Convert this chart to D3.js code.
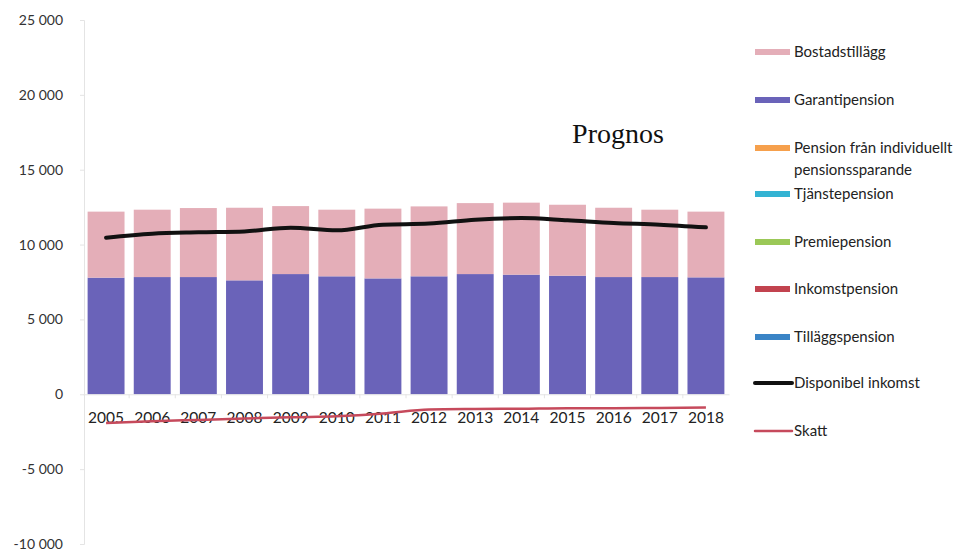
<!DOCTYPE html>
<html>
<head>
<meta charset="utf-8">
<script src="https://cdn.jsdelivr.net/npm/d3@7"></script>
<style>
  html, body { margin: 0; padding: 0; background: #fff; }
  svg { display: block; }
</style>
</head>
<body>
<svg id="chart" width="972" height="553"></svg>
<script>
// Years on the category axis
const years = ["2005","2006","2007","2008","2009","2010","2011","2012","2013","2014","2015","2016","2017","2018"];

// Stacked components (kr per month)
const garantipension = [7790,7830,7830,7610,8030,7880,7740,7880,8030,7990,7920,7830,7830,7810];
const bostadstillagg = [4410,4500,4610,4850,4540,4450,4660,4670,4740,4810,4740,4630,4500,4390];
const tillaggspension = [0,0,0,0,0,0,0,0,0,0,0,0,0,0];
const inkomstpension = [0,0,0,0,0,0,0,0,0,0,0,0,0,0];
const premiepension = [0,0,0,0,0,0,0,0,0,0,0,0,0,0];
const tjanstepension = [0,0,0,0,0,0,0,0,0,0,0,0,0,0];
const individuellt = [0,0,0,0,0,0,0,0,0,0,0,0,0,0];

// Lines
const disponibelInkomst = [10460,10730,10820,10880,11130,10950,11330,11400,11660,11770,11620,11440,11330,11150];
const skatt = [-1920,-1800,-1710,-1620,-1530,-1470,-1290,-1020,-980,-960,-930,-930,-910,-890];

// Axis ticks
const yTicks = [-10000,-5000,0,5000,10000,15000,20000,25000];

const stackKeys = ["garantipension","bostadstillagg"];
const rows = years.map((y, i) => ({
  year: y,
  garantipension: garantipension[i],
  bostadstillagg: bostadstillagg[i]
}));

const colors = {
  bostadstillagg: "#e4aeb8",
  garantipension: "#6a63b9",
  individuellt: "#f6a04c",
  tjanstepension: "#33b3d3",
  premiepension: "#9bc857",
  inkomstpension: "#c2434f",
  tillaggspension: "#3a84c6",
  disponibel: "#111111",
  skatt: "#c64a5c"
};

const svg = d3.select("#chart");
const font = "Lato, 'Open Sans', sans-serif";

const x = d3.scaleBand().domain(years).range([83, 729]).paddingInner(0.2).paddingOuter(0.1);
const y = d3.scaleLinear().domain([-10000, 25000]).range([544, 20]);

// Y axis
const fmt = v => d3.format(",")(v).replace(/,/g, " ").replace("−", "-");
const yAxis = svg.append("g").attr("transform", "translate(84,0)")
  .call(d3.axisLeft(y).tickValues(yTicks).tickSize(4).tickFormat(fmt));
yAxis.select(".domain").attr("stroke", "#e4e4e4");
yAxis.selectAll(".tick line").attr("stroke", "#e4e4e4");
yAxis.selectAll(".tick text")
  .attr("x", -21)
  .attr("fill", "#333")
  .style("font-family", font)
  .style("font-size", "14px");

// Stacked bars
const series = d3.stack().keys(stackKeys)(rows);
svg.append("g").selectAll("g").data(series).join("g")
  .attr("fill", d => colors[d.key])
  .selectAll("rect").data(d => d).join("rect")
  .attr("x", d => x(d.data.year))
  .attr("width", x.bandwidth())
  .attr("y", d => y(d[1]))
  .attr("height", d => y(d[0]) - y(d[1]));

// X axis along zero
const xAxis = svg.append("g").attr("transform", `translate(0,${y(0)})`)
  .call(d3.axisBottom(x).tickSize(0).tickPadding(18));
xAxis.select(".domain").attr("stroke", "#e4e4e4");
xAxis.selectAll(".tick text")
  .attr("fill", "#222")
  .style("font-family", font)
  .style("font-size", "15.5px");
// small ticks between categories
xAxis.selectAll(".sep").data(years.slice(1)).join("line")
  .attr("class", "sep")
  .attr("x1", d => x(d) - x.step() * x.paddingInner() / 2)
  .attr("x2", d => x(d) - x.step() * x.paddingInner() / 2)
  .attr("y1", 0).attr("y2", 4)
  .attr("stroke", "#e4e4e4");

const cx = (d, i) => x(years[i]) + x.bandwidth() / 2;

// Skatt line
svg.append("path")
  .datum(skatt)
  .attr("fill", "none")
  .attr("stroke", colors.skatt)
  .attr("stroke-width", 2.5)
  .attr("d", d3.line().x(cx).y(d => y(d)).curve(d3.curveMonotoneX));

// Disponibel inkomst line
svg.append("path")
  .datum(disponibelInkomst)
  .attr("fill", "none")
  .attr("stroke", colors.disponibel)
  .attr("stroke-width", 4)
  .attr("stroke-linecap", "round")
  .attr("d", d3.line().x(cx).y(d => y(d)).curve(d3.curveMonotoneX));

// Annotation
svg.append("text")
  .attr("x", 618).attr("y", 143)
  .attr("text-anchor", "middle")
  .style("font-family", "'Liberation Serif', 'Times New Roman', serif")
  .style("font-size", "28px")
  .attr("fill", "#111")
  .text("Prognos");

// Legend
const legendItems = [
  { label: ["Bostadstillägg"], color: colors.bostadstillagg, type: "box" },
  { label: ["Garantipension"], color: colors.garantipension, type: "box" },
  { label: ["Pension från individuellt", "pensionssparande"], color: colors.individuellt, type: "box" },
  { label: ["Tjänstepension"], color: colors.tjanstepension, type: "box" },
  { label: ["Premiepension"], color: colors.premiepension, type: "box" },
  { label: ["Inkomstpension"], color: colors.inkomstpension, type: "box" },
  { label: ["Tilläggspension"], color: colors.tillaggspension, type: "box" },
  { label: ["Disponibel inkomst"], color: colors.disponibel, type: "line" },
  { label: ["Skatt"], color: colors.skatt, type: "thin" }
];
const legendY = [52, 100, 148, 194, 242, 289, 337, 383, 431];
const lg = svg.append("g");
legendItems.forEach((it, i) => {
  const g = lg.append("g").attr("transform", `translate(0,${legendY[i]})`);
  if (it.type === "box") {
    g.append("rect").attr("x", 755).attr("y", -3).attr("width", 35).attr("height", 6).attr("fill", it.color);
  } else {
    g.append("line").attr("x1", 755).attr("x2", 792).attr("y1", 0).attr("y2", 0)
      .attr("stroke", it.color)
      .attr("stroke-width", it.type === "line" ? 4 : 2.5)
      .attr("stroke-linecap", "round");
  }
  it.label.forEach((t, j) => {
    g.append("text")
      .attr("x", 794).attr("y", j * 22 + 5)
      .style("font-family", font)
      .style("font-size", "15px")
      .attr("fill", "#222")
      .text(t);
  });
});
</script>
</body>
</html>
